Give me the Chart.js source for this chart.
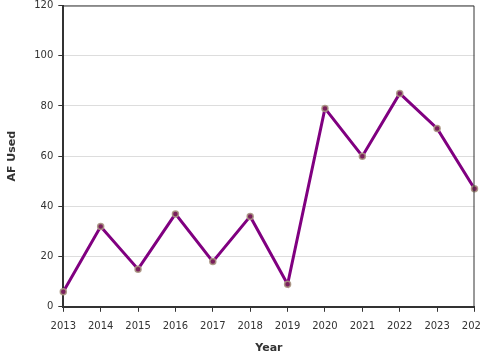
<!DOCTYPE html>
<html>
<head>
<meta charset="utf-8">
<script src="https://cdn.jsdelivr.net/npm/chart.js@4.4.0/dist/chart.umd.min.js"></script>
<style>
  body { margin: 0; background: #fff; overflow: hidden; }
  canvas { display: block; }
</style>
</head>
<body>
<canvas id="afChart" width="480" height="360"></canvas>
<script>
// Data
let years = ["2013", "2014", "2015", "2016", "2017", "2018", "2019", "2020", "2021", "2022", "2023", "2024"];
let afUsed = [6, 32, 15, 37, 18, 36, 9, 79, 60, 85, 71, 47];
let yTicks = [0, 20, 40, 60, 80, 100, 120];

Chart.defaults.font.family = "DejaVu Sans";
Chart.defaults.font.size = 10;
Chart.defaults.color = "#333";

// Draw the frame around the plot area
let framePlugin = {
  id: "frame",
  afterDraw: function (chart) {
    let ctx = chart.ctx;
    let a = chart.chartArea;
    ctx.save();
    ctx.strokeStyle = "#333";
    ctx.lineWidth = 1;
    ctx.beginPath();
    ctx.moveTo(a.left, a.top + 0.5);
    ctx.lineTo(a.right - 0.5, a.top + 0.5);
    ctx.lineTo(a.right - 0.5, a.bottom);
    ctx.stroke();
    ctx.restore();
  },
};

let ctx = document.getElementById("afChart").getContext("2d");

let myChart = new Chart(ctx, {
  type: "line",
  data: {
    labels: years,
    datasets: [
      {
        label: "AF Used",
        data: afUsed,
        borderColor: "#800080",
        borderWidth: 3,
        tension: 0,
        pointRadius: 3,
        pointBorderWidth: 1.5,
        pointBackgroundColor: "#7a1f5c",
        pointBorderColor: "rgba(170, 150, 130, 0.9)",
      },
    ],
  },
  options: {
    responsive: false,
    animation: false,
    layout: {
      padding: { left: 6, top: 0, right: 5, bottom: 5 },
    },
    plugins: {
      legend: { display: false },
      tooltip: { enabled: false },
    },
    scales: {
      x: {
        offset: false,
        grid: {
          drawOnChartArea: false,
          drawTicks: true,
          tickLength: 5,
          tickColor: "#333",
        },
        border: { color: "#333", width: 2 },
        ticks: { maxRotation: 0, autoSkip: false, padding: 9, color: "#333" },
        title: {
          display: true,
          text: "Year",
          font: { weight: "bold", size: 11 },
          color: "#333",
          padding: { top: 0, bottom: 0 },
        },
        afterFit: function (scale) {
          scale.paddingRight = 5;
          scale.paddingLeft = 0;
        },
      },
      y: {
        min: 0,
        max: 120,
        afterBuildTicks: function (scale) {
          scale.ticks = yTicks.map((v) => ({ value: v }));
        },
        grid: {
          color: "#ddd",
          tickColor: "#333",
          tickLength: 5,
        },
        border: { color: "#333", width: 2 },
        ticks: { padding: 5, color: "#333" },
        title: {
          display: true,
          text: "AF Used",
          font: { weight: "bold", size: 11 },
          color: "#333",
          padding: { top: 0, bottom: 10 },
        },
        afterFit: function (scale) {
          scale.paddingTop = 0;
          scale.paddingBottom = 0;
        },
      },
    },
  },
  plugins: [framePlugin],
});
</script>
</body>
</html>
